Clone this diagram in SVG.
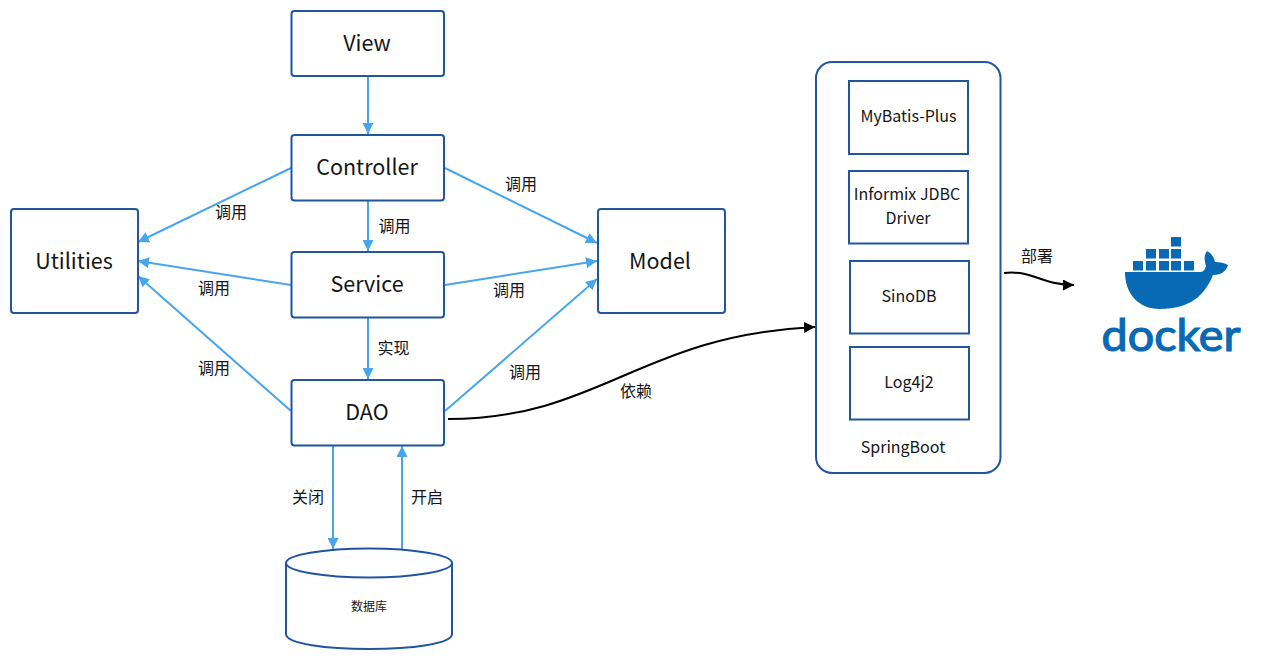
<svg xmlns="http://www.w3.org/2000/svg" width="1280" height="660" viewBox="0 0 1280 660">
<style>
text{font-family:"Noto Sans CJK SC","Noto Sans",sans-serif;fill:#151515;text-anchor:middle}
.n{fill:#fff;stroke:#22549f;stroke-width:2}
.t{font-size:21.500px}
.m{font-size:16px}
.l{font-size:16px}
.c{fill:none;stroke:#47a5ee;stroke-width:2;marker-end:url(#b)}
.k{fill:none;stroke:#000;stroke-width:2;marker-end:url(#d)}
.w{fill:#0869b5}
</style>
<defs>
<marker id="b" markerUnits="userSpaceOnUse" markerWidth="11" markerHeight="11" refX="10" refY="5" orient="auto" viewBox="0 0 10 10"><path d="M0 0L10 5L0 10Z" fill="#47a5ee"/></marker>
<marker id="d" markerUnits="userSpaceOnUse" markerWidth="11" markerHeight="11" refX="10" refY="5" orient="auto" viewBox="0 0 10 10"><path d="M0 0L10 5L0 10Z" fill="#000"/></marker>
</defs>
<rect width="1280" height="660" fill="#fff"/>
<g id="connectors">
<path class="c" d="M368 76V134"/>
<path class="c" d="M368 201V251"/>
<path class="c" d="M368 318V379"/>
<path class="c" d="M291 168L138 242"/>
<path class="c" d="M291 285L138 261"/>
<path class="c" d="M291 411L138 276"/>
<path class="c" d="M445 168L597 243"/>
<path class="c" d="M445 285L597 261"/>
<path class="c" d="M445 411L597 279"/>
<path class="c" d="M333 446V549"/>
<path class="c" d="M402 549V446"/>
<path class="k" d="M448 419C600 419 640 335 815 327"/>
<path class="k" d="M1004 273C1035 270 1040 285 1074 285"/>
</g>
<g id="view"><rect class="n" x="291.500" y="11" width="152.500" height="65" rx="3"/><text class="t" x="367" y="51">View</text></g>
<g id="controller"><rect class="n" x="291.500" y="135" width="152.500" height="65.500" rx="3"/><text class="t" x="367" y="175">Controller</text></g>
<g id="service"><rect class="n" x="291.500" y="252" width="152.500" height="65.500" rx="3"/><text class="t" x="367" y="292">Service</text></g>
<g id="dao"><rect class="n" x="291.500" y="380" width="152.500" height="65.500" rx="3"/><text class="t" x="367" y="420">DAO</text></g>
<g id="utilities"><rect class="n" x="11" y="209" width="127" height="104" rx="3"/><text class="t" x="74" y="269">Utilities</text></g>
<g id="model"><rect class="n" x="598" y="209" width="127" height="104" rx="3"/><text class="t" x="660" y="269">Model</text></g>
<g id="database"><path class="n" d="M286 563V634C286 654 452 654 452 634V563"/><ellipse class="n" cx="369" cy="563" rx="83" ry="14.500"/><text x="369" y="611" style="font-size:12px">数据库</text></g>
<g id="springboot"><rect class="n" x="816" y="62" width="184.500" height="411" rx="16"/><text class="m" x="903" y="453">SpringBoot</text></g>
<g id="mybatis"><rect class="n" x="849" y="81" width="119" height="73"/><text class="m" x="908.500" y="122">MyBatis-Plus</text></g>
<g id="informix"><rect class="n" x="849" y="171" width="119" height="72.500"/><text class="m" x="907" y="200">Informix JDBC</text><text class="m" x="908" y="224">Driver</text></g>
<g id="sinodb"><rect class="n" x="850" y="261" width="119" height="72.500"/><text class="m" x="909" y="302">SinoDB</text></g>
<g id="log4j2"><rect class="n" x="850" y="347" width="119" height="72.500"/><text class="m" x="909" y="388">Log4j2</text></g>
<g id="labels">
<text class="l" x="231" y="218">调用</text>
<text class="l" x="214" y="294">调用</text>
<text class="l" x="214" y="374">调用</text>
<text class="l" x="394.500" y="232">调用</text>
<text class="l" x="521" y="190">调用</text>
<text class="l" x="509" y="296">调用</text>
<text class="l" x="525" y="378">调用</text>
<text class="l" x="393.500" y="354">实现</text>
<text class="l" x="308" y="503">关闭</text>
<text class="l" x="427" y="503">开启</text>
<text class="l" x="636" y="397">依赖</text>
<text class="l" x="1037" y="262">部署</text>
</g>
<g id="docker">
<g class="w">
<rect x="1133" y="261" width="10" height="9.500"/><rect x="1146" y="261" width="10" height="9.500"/><rect x="1159" y="261" width="10" height="9.500"/><rect x="1171" y="261" width="10" height="9.500"/><rect x="1184" y="261" width="10" height="9.500"/>
<rect x="1146" y="249" width="10" height="9.500"/><rect x="1159" y="249" width="10" height="9.500"/><rect x="1171" y="249" width="10" height="9.500"/>
<rect x="1171" y="237" width="10" height="9.500"/>
<path d="M1125 272H1200C1203 272 1205 270 1206 266C1204 259 1204 255 1207 251C1211 253 1214 257 1215 262C1220 262 1225 263 1228 265C1226 272 1220 275 1213 275C1205 295 1190 309 1160 309C1138 309 1125 293 1125 272Z"/>
</g>
<text x="1171" y="351" style="font-family:Lato,sans-serif;font-size:44px;font-weight:400;fill:#0869b5;stroke:#0869b5;stroke-width:1.200" textLength="139" lengthAdjust="spacingAndGlyphs">docker</text>
</g>
</svg>
